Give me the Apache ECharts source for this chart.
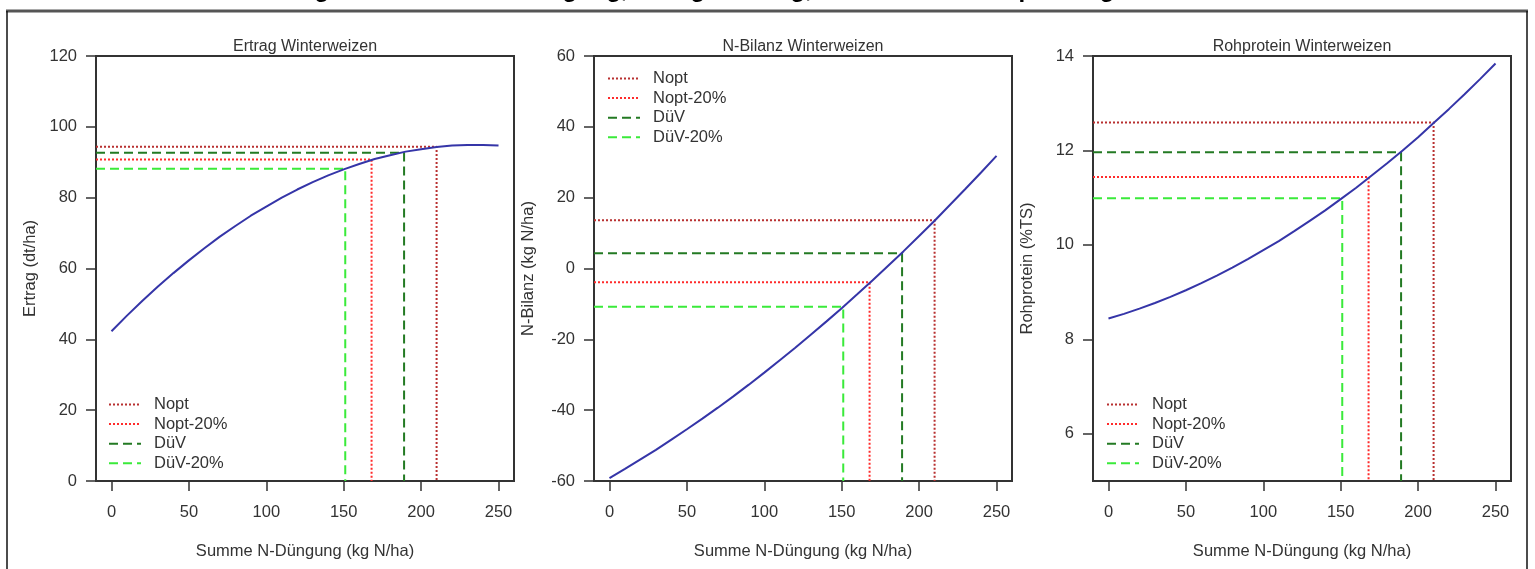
<!DOCTYPE html>
<html lang="de">
<head>
	<meta charset="UTF-8">
	<title>N-Düngung Winterweizen</title>
	<style>
	body, div {
		margin: 0;
		padding: 0;
	}
	#chart {
		width: 1535px;
		height: 569px;
		background: #fff;
	}
	</style>
</head>
<body>
	<div id="chart"></div>

	<script src="https://cdn.jsdelivr.net/npm/echarts@6/dist/echarts.min.js"></script>

	<script>
	// Summe N-Düngung (kg N/ha)
	var nDuengung = [0, 10, 20, 30, 40, 50, 60, 70, 80, 90, 100, 110, 120,
		130, 140, 150, 160, 170, 180, 190, 200, 210, 220, 230, 240, 250];

	// Ertrag (dt/ha)
	var ertrag = [42.3, 46.7, 50.9, 54.9, 58.7, 62.3, 65.7, 69.0, 72.0, 74.9, 77.5,
		80.0, 82.3, 84.4, 86.3, 88.0, 89.5, 90.9, 92.0, 93.0, 93.7, 94.3, 94.7,
		94.9, 94.9, 94.7];

	// N-Bilanz (kg N/ha)
	var nBilanz = [-59.2, -56.6, -53.9, -51.2, -48.3, -45.4, -42.4, -39.3, -36.1,
		-32.8, -29.4, -25.9, -22.4, -18.7, -15.0, -11.2, -7.3, -3.3, 0.8, 4.9,
		9.2, 13.5, 18.0, 22.5, 27.1, 31.8];

	// Rohprotein (%TS)
	var rohprotein = [8.44, 8.54, 8.65, 8.77, 8.90, 9.04, 9.19, 9.35, 9.52, 9.70,
		9.89, 10.08, 10.29, 10.51, 10.73, 10.97, 11.21, 11.47, 11.73, 12.00,
		12.28, 12.58, 12.88, 13.19, 13.51, 13.84];

	// Bezugspunkte
	var refNames = ['Nopt', 'Nopt-20%', 'DüV', 'DüV-20%'];
	var refN = [210, 168, 189, 151];
	var refErtrag = [94.4, 90.8, 92.7, 88.2];
	var refBilanz = [13.6, -3.9, 4.3, -10.8];
	var refProtein = [12.59, 11.44, 11.96, 10.99];

	// Achsen
	var xTicks = [0, 50, 100, 150, 200, 250];
	var yTicksErtrag = [0, 20, 40, 60, 80, 100, 120];
	var yTicksBilanz = [-60, -40, -20, 0, 20, 40, 60];
	var yTicksProtein = [6, 8, 10, 12, 14];

	var caption = 'Abb. 2: Modellierte Wirkung der Höhe der N-Düngung, Ertragsbildung, N-Bilanz und Rohproteingehalt bei Winterweizen';

	var panels = [
		{ title: 'Ertrag Winterweizen', yName: 'Ertrag (dt/ha)', yMin: 0, yMax: 120,
		  yTicks: yTicksErtrag, curve: ertrag, refY: refErtrag },
		{ title: 'N-Bilanz Winterweizen', yName: 'N-Bilanz (kg N/ha)', yMin: -60, yMax: 60,
		  yTicks: yTicksBilanz, curve: nBilanz, refY: refBilanz },
		{ title: 'Rohprotein Winterweizen', yName: 'Rohprotein (%TS)', yMin: 5, yMax: 14,
		  yTicks: yTicksProtein, curve: rohprotein, refY: refProtein }
	];

	var font = '"Liberation Sans", Arial, sans-serif';
	var textColor = '#333';
	var fs = 16.5;
	var xMin = -10, xMax = 260;
	var gridLeft = [96, 594, 1093];
	var gridTop = 56, gridW = 418, gridH = 425;
	var legendPos = [[108, 396], [607, 70], [1106, 396]];

	var refStyle = [
		{ color: '#b83030', type: [2, 2] },
		{ color: '#ff2b2b', type: [2, 2] },
		{ color: '#237a23', type: [9, 5] },
		{ color: '#3aea3a', type: [9, 5] }
	];

	var grids = [], xAxes = [], yAxes = [], series = [], legends = [];
	var graphics = [
		// abgeschnittene Bildunterschrift
		{ type: 'text', left: 12, top: -22, silent: true,
		  style: { text: caption, font: 'bold 24px ' + font, fill: '#000' } },
		// Rahmen
		{ type: 'line', shape: { x1: 6, y1: 11, x2: 1528, y2: 11 },
		  style: { stroke: '#555', lineWidth: 3 } },
		{ type: 'line', shape: { x1: 7, y1: 11, x2: 7, y2: 569 },
		  style: { stroke: '#111', lineWidth: 1.5 } },
		{ type: 'line', shape: { x1: 1527, y1: 11, x2: 1527, y2: 569 },
		  style: { stroke: '#111', lineWidth: 1.5 } }
	];

	panels.forEach(function (p, i) {
		grids.push({
			left: gridLeft[i], top: gridTop, width: gridW, height: gridH,
			show: true, borderColor: '#333', borderWidth: 2,
			backgroundColor: 'transparent'
		});

		xAxes.push({
			type: 'value', gridIndex: i, min: xMin, max: xMax,
			name: 'Summe N-Düngung (kg N/ha)', nameLocation: 'middle', nameGap: 62,
			nameTextStyle: { fontSize: fs, color: textColor, fontFamily: font },
			axisLine: { show: false, onZero: false },
			axisTick: { show: true, length: 10, customValues: xTicks,
				lineStyle: { color: '#333', width: 1.5 } },
			axisLabel: { customValues: xTicks, margin: 23, fontSize: fs,
				color: textColor, fontFamily: font },
			splitLine: { show: false }
		});

		yAxes.push({
			type: 'value', gridIndex: i, min: p.yMin, max: p.yMax,
			name: p.yName, nameLocation: 'middle', nameGap: 57,
			nameTextStyle: { fontSize: fs, color: textColor, fontFamily: font },
			axisLine: { show: false, onZero: false },
			axisTick: { show: true, length: 10, customValues: p.yTicks,
				lineStyle: { color: '#333', width: 1.5 } },
			axisLabel: { customValues: p.yTicks, margin: 19, fontSize: fs,
				color: textColor, fontFamily: font },
			splitLine: { show: false }
		});

		// Hilfslinien: waagerecht vom Rand bis zur Kurve, dann senkrecht nach unten
		refNames.forEach(function (name, k) {
			series.push({
				name: name, type: 'line', xAxisIndex: i, yAxisIndex: i,
				symbol: 'none', silent: true, z: 2,
				lineStyle: { color: refStyle[k].color, type: refStyle[k].type, width: 2 },
				itemStyle: { color: refStyle[k].color },
				data: [[xMin, p.refY[k]], [refN[k], p.refY[k]], [refN[k], p.yMin]]
			});
		});

		series.push({
			name: p.title, type: 'line', xAxisIndex: i, yAxisIndex: i,
			symbol: 'none', smooth: false, silent: true, z: 3,
			lineStyle: { color: '#3535a8', width: 2 },
			data: nDuengung.map(function (x, j) { return [x, p.curve[j]]; })
		});

		legends.push({
			data: refNames, orient: 'vertical', left: legendPos[i][0], top: legendPos[i][1],
			padding: 0, itemWidth: 32, itemHeight: 14, itemGap: 2.6, selectedMode: false,
			itemStyle: { opacity: 0 },
			textStyle: { fontSize: fs, color: textColor, fontFamily: font,
				lineHeight: 14, padding: [0, 0, 0, 8] }
		});

		graphics.push({
			type: 'text', x: gridLeft[i] + gridW / 2, y: 47, silent: true,
			style: { text: p.title, font: '16px ' + font, fill: textColor,
				align: 'center', verticalAlign: 'middle' }
		});
	});

	var myChart = echarts.init(document.getElementById('chart'));
	myChart.setOption({
		animation: false,
		backgroundColor: '#fff',
		grid: grids,
		xAxis: xAxes,
		yAxis: yAxes,
		legend: legends,
		series: series,
		graphic: graphics
	});
	</script>
</body>
</html>
